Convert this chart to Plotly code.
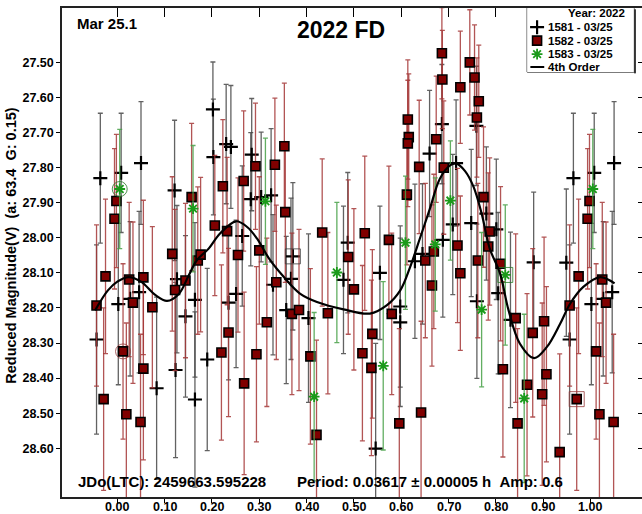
import plotly.graph_objects as go

# ---------------- data (phase in [0,1), reduced magnitude, error) ----------------
ph_1581 = [0.964, 0.008, 0.050, 0.121, 0.202, 0.203, 0.230, 0.240, 0.264, 0.284, 0.282, 0.304, 0.325,
           0.329, 0.367, 0.371, 0.357, 0.404, 0.478, 0.487, 0.546, 0.555, 0.598, 0.598, 0.629, 0.645,
           0.660, 0.686, 0.688, 0.716, 0.709, 0.748, 0.759, 0.780, 0.801, 0.760, 0.805, 0.831, 0.880,
           0.949, 0.956, 0.002, 0.027, 0.046, 0.083, 0.126, 0.123, 0.144, 0.164, 0.164, 0.190, 0.235, 0.251]
mag_1581 = [27.830, 27.815, 27.787, 27.865, 27.634, 27.770, 27.733, 27.741, 27.995, 27.763, 27.890, 27.884, 27.879,
            28.134, 28.117, 28.053, 28.206, 28.229, 28.120, 28.014, 28.601, 28.100, 28.196, 28.241, 28.067, 28.046,
            27.760, 27.676, 28.006, 27.787, 27.962, 27.958, 27.681, 27.931, 27.976, 28.181, 28.158, 28.234, 28.070,
            28.071, 28.290, 28.189, 28.174, 28.155, 28.429, 28.118, 28.377, 28.224, 28.177, 28.461, 28.347, 28.185, 28.160]
err_1581 = [0.185, 0.170, 0.175, 0.200, 0.135, 0.165, 0.170, 0.175, 0.200, 0.160, 0.190, 0.185, 0.190,
            0.200, 0.230, 0.210, 0.210, 0.240, 0.210, 0.200, 0.300, 0.190, 0.230, 0.240, 0.220, 0.200,
            0.180, 0.170, 0.220, 0.180, 0.200, 0.210, 0.170, 0.190, 0.200, 0.220, 0.230, 0.250, 0.200,
            0.210, 0.270, 0.230, 0.220, 0.230, 0.260, 0.210, 0.250, 0.230, 0.220, 0.250, 0.260, 0.220, 0.210]

ph_1582 = [0.998, 0.994, 0.157, 0.206, 0.223, 0.232, 0.267, 0.292, 0.956, 0.975, 0.971, 0.012, 0.019, 0.025,
           0.033, 0.055, 0.055, 0.049, 0.074, 0.116, 0.122, 0.144, 0.170, 0.176, 0.220, 0.235, 0.255, 0.268,
           0.294, 0.300, 0.333, 0.353, 0.355, 0.433, 0.523, 0.574, 0.612, 0.614, 0.616, 0.614, 0.638, 0.674,
           0.686, 0.687, 0.690, 0.336, 0.316, 0.369, 0.384, 0.408, 0.421, 0.445, 0.488, 0.500, 0.518, 0.539,
           0.537, 0.580, 0.596, 0.642, 0.651, 0.665, 0.669, 0.745, 0.725, 0.755, 0.764, 0.760, 0.774, 0.787,
           0.719, 0.784, 0.725, 0.762, 0.810, 0.815, 0.842, 0.846, 0.866, 0.878, 0.902, 0.907, 0.898, 0.935]
mag_1582 = [27.895, 27.946, 27.884, 27.965, 27.853, 27.981, 27.838, 27.796, 28.193, 28.110, 28.460, 28.324, 28.503, 28.119,
            28.185, 28.113, 28.373, 28.525, 28.198, 28.046, 28.149, 28.122, 28.065, 28.048, 28.327, 28.270, 28.049, 28.415,
            28.332, 28.036, 27.792, 27.739, 27.927, 27.985, 27.987, 28.006, 27.877, 27.663, 27.713, 27.731, 27.798, 27.719,
            27.474, 27.549, 27.800, 28.127, 28.241, 28.217, 28.206, 28.338, 28.562, 28.215, 28.055, 28.147, 28.329, 28.274,
            28.371, 28.217, 28.529, 28.498, 28.065, 28.136, 28.039, 27.500, 27.571, 27.543, 27.611, 27.657, 27.884, 27.982,
            28.022, 28.025, 28.101, 28.065, 28.074, 28.375, 28.229, 28.529, 28.419, 28.271, 28.238, 28.389, 28.446, 28.611]
err_1582 = [0.19, 0.20, 0.21, 0.20, 0.19, 0.21, 0.20, 0.18, 0.23, 0.22, 0.26, 0.25, 0.26, 0.22,
            0.23, 0.22, 0.26, 0.25, 0.23, 0.22, 0.23, 0.22, 0.21, 0.22, 0.25, 0.24, 0.22, 0.26,
            0.25, 0.21, 0.19, 0.18, 0.20, 0.21, 0.22, 0.21, 0.20, 0.17, 0.18, 0.18, 0.19, 0.18,
            0.13, 0.14, 0.19, 0.22, 0.24, 0.23, 0.23, 0.25, 0.27, 0.23, 0.22, 0.23, 0.25, 0.24,
            0.25, 0.23, 0.27, 0.26, 0.22, 0.23, 0.22, 0.15, 0.16, 0.15, 0.16, 0.17, 0.20, 0.21,
            0.22, 0.21, 0.22, 0.22, 0.22, 0.25, 0.24, 0.27, 0.26, 0.24, 0.24, 0.25, 0.26, 0.28]

ph_1583 = [0.005, 0.160, 0.313, 0.609, 0.672, 0.704, 0.416, 0.464, 0.562, 0.770, 0.820, 0.860]
mag_1583 = [27.861, 27.917, 27.896, 28.014, 28.019, 27.894, 28.453, 28.099, 28.365, 28.205, 28.106, 28.458]
err_1583 = [0.17, 0.18, 0.18, 0.19, 0.19, 0.17, 0.24, 0.20, 0.24, 0.22, 0.20, 0.24]

# 4th order Fourier fit
curve_phase = [-0.047, -0.02, 0.0, 0.024, 0.05, 0.08, 0.105, 0.13, 0.15, 0.168, 0.193, 0.217, 0.251, 0.275,
               0.295, 0.323, 0.352, 0.386, 0.422, 0.478, 0.534, 0.570, 0.598, 0.619, 0.640, 0.660, 0.682,
               0.704, 0.716, 0.735, 0.753, 0.770, 0.787, 0.809, 0.827, 0.851, 0.881, 0.908, 0.936, 0.957,
               0.985, 1.021, 1.051]
curve_mag = [28.207, 28.150, 28.125, 28.112, 28.125, 28.163, 28.180, 28.160, 28.110, 28.064, 28.031, 27.988,
             27.953, 27.970, 28.002, 28.064, 28.112, 28.159, 28.183, 28.204, 28.216, 28.192, 28.150, 28.083,
             28.000, 27.920, 27.831, 27.793, 27.788, 27.810, 27.855, 27.931, 28.030, 28.102, 28.207, 28.302,
             28.343, 28.311, 28.245, 28.188, 28.140, 28.112, 28.130]

series_names = ["1581 - 03/25", "1582 - 03/25", "1583 - 03/25"]
x_ticks = [0.0, 0.1, 0.2, 0.3, 0.4, 0.5, 0.6, 0.7, 0.8, 0.9, 1.0]
y_ticks = [27.5, 27.6, 27.7, 27.8, 27.9, 28.0, 28.1, 28.2, 28.3, 28.4, 28.5, 28.6]

# session first / last observation markers (index into the series)
circled = [("1582", 11), ("1583", 0)]
boxed = [("1581", 15), ("1582", 10), ("1583", 10)]

FONT = "Liberation Sans, Arial, sans-serif"
X_RANGE = [-0.117, 1.109]
Y_RANGE = [28.739, 27.345]


def wrap(ph, mag, err):
    xs, ys, es = [], [], []
    for p, m, e in zip(ph, mag, err):
        xs.append(p); ys.append(m); es.append(e)
        if p > 0.95:
            xs.append(p - 1); ys.append(m); es.append(e)
        if p < 0.052:
            xs.append(p + 1); ys.append(m); es.append(e)
    return xs, ys, es


data = {"1581": (ph_1581, mag_1581, err_1581),
        "1582": (ph_1582, mag_1582, err_1582),
        "1583": (ph_1583, mag_1583, err_1583)}

styles = {
    "1581": dict(marker=dict(symbol="cross-thin", size=10, color="black",
                             line=dict(width=2.2, color="black")),
                 ecolor="rgba(70,70,70,0.85)"),
    "1582": dict(marker=dict(symbol="square", size=9, color="#800000",
                             line=dict(width=1.6, color="black")),
                 ecolor="rgba(165,55,55,0.85)"),
    "1583": dict(marker=dict(symbol="asterisk", size=9, color="#1a9a1a",
                             line=dict(width=1.8, color="#1a9a1a")),
                 ecolor="rgba(70,160,70,0.85)"),
}

fig = go.Figure()

for key in ["1581", "1582", "1583"]:
    xs, ys, es = wrap(*data[key])
    st = styles[key]
    fig.add_trace(go.Scatter(
        x=xs, y=ys, mode="markers", showlegend=False, hoverinfo="skip",
        marker=st["marker"],
        error_y=dict(type="data", array=es, visible=True, color=st["ecolor"],
                     thickness=1.3, width=2.5),
    ))

hl_col = {"1581": "rgba(60,60,60,0.8)", "1582": "rgba(150,60,60,0.8)", "1583": "rgba(40,120,40,0.8)"}
for lst, sym in ((circled, "circle-open"), (boxed, "square-open")):
    for key, idx in lst:
        ph, mag, _ = data[key]
        fig.add_trace(go.Scatter(
            x=[ph[idx]], y=[mag[idx]], mode="markers", showlegend=False, hoverinfo="skip",
            marker=dict(symbol=sym, size=15, color=hl_col[key], line=dict(width=1, color=hl_col[key])),
        ))

fig.add_trace(go.Scatter(
    x=curve_phase, y=curve_mag, mode="lines", showlegend=False, hoverinfo="skip",
    line=dict(color="black", width=2.2, shape="spline", smoothing=1.0),
))

# invisible trace to anchor the mirrored tick axes (top and right)
fig.add_trace(go.Scatter(x=curve_phase, y=curve_mag, xaxis="x2", yaxis="y2", mode="lines",
                         line=dict(width=0), opacity=0, showlegend=False, hoverinfo="skip"))

# ---- legend drawn on an overlay axis pair ----
leg_title_row = 0.915
leg_rows = [0.70, 0.49, 0.28, 0.08]
for key, row in zip(["1581", "1582", "1583"], leg_rows[:3]):
    m = dict(styles[key]["marker"])
    fig.add_trace(go.Scatter(x=[0.093], y=[row], xaxis="x3", yaxis="y3", mode="markers",
                             marker=m, showlegend=False, hoverinfo="skip"))
fig.add_trace(go.Scatter(x=[0.03, 0.16], y=[leg_rows[3], leg_rows[3]], xaxis="x3", yaxis="y3",
                         mode="lines", line=dict(color="black", width=2), showlegend=False, hoverinfo="skip"))

legend_texts = series_names + ["4th Order"]
annotations = []
for txt, row in zip(legend_texts, leg_rows):
    annotations.append(dict(x=0.178, y=row, xref="x3", yref="y3", text=txt, showarrow=False,
                            xanchor="left", yanchor="middle",
                            font=dict(family=FONT, size=11.5, color="black", weight="bold")))
annotations.append(dict(x=0.65, y=leg_title_row, xref="x3", yref="y3", text="Year: 2022", showarrow=False,
                        xanchor="center", yanchor="middle",
                        font=dict(family=FONT, size=11.5, color="black", weight="bold")))

tickfont = dict(family=FONT, size=12.5, color="black", weight="bold")

# x tick labels placed just under the frame
for v in x_ticks:
    annotations.append(dict(x=v, y=-0.021, xref="x", yref="paper", text=f"{v:.2f}", showarrow=False,
                            xanchor="center", yanchor="middle", font=tickfont))

annotations += [
    dict(x=0.022, y=0.969, xref="paper", yref="paper", text="Mar 25.1", showarrow=False,
         xanchor="left", yanchor="middle", font=dict(family=FONT, size=15, color="black", weight="bold")),
    dict(x=0.481, y=0.955, xref="paper", yref="paper", text="2022 FD", showarrow=False,
         xanchor="center", yanchor="middle", font=dict(family=FONT, size=23, color="black", weight="bold")),
    dict(x=0.024, y=0.031, xref="paper", yref="paper", text="JDo(LTC): 2459663.595228", showarrow=False,
         xanchor="left", yanchor="middle", font=dict(family=FONT, size=15, color="black", weight="bold")),
    dict(x=0.402, y=0.031, xref="paper", yref="paper",
         text="Period: 0.03617 ± 0.00005 h\u00a0\u00a0Amp: 0.6", showarrow=False,
         xanchor="left", yanchor="middle", font=dict(family=FONT, size=15, color="black", weight="bold")),
    # y axis title
    dict(x=-0.087, y=0.515, xref="paper", yref="paper",
         text="Reduced Magnitude(V)\u00a0\u00a0(a: 63.4\u00a0\u00a0G: 0.15)", showarrow=False,
         textangle=-90, xanchor="center", yanchor="middle",
         font=dict(family=FONT, size=14.5, color="black", weight="bold")),
]

shapes = [
    dict(type="rect", xref="x3 domain", yref="y3 domain", x0=0, x1=1, y0=0, y1=1,
         line=dict(color="black", width=1), fillcolor="white", layer="below"),
    dict(type="line", xref="x3 domain", yref="y3 domain", x0=1.01, x1=1.01, y0=-0.02, y1=0.98,
         line=dict(color="#333", width=2)),
]

fig.update_layout(
    width=642, height=514,
    margin=dict(l=62, r=0, t=8, b=17),
    paper_bgcolor="white", plot_bgcolor="white",
    annotations=annotations, shapes=shapes,
    xaxis=dict(range=X_RANGE, tickvals=x_ticks, showticklabels=False, ticks="outside", ticklen=4,
               tickwidth=1, tickcolor="black", showline=True, linecolor="#222", linewidth=1.5,
               mirror=True, showgrid=False, zeroline=False),
    xaxis2=dict(range=X_RANGE, overlaying="x", side="top", tickvals=x_ticks, ticks="inside",
                ticklen=9, tickwidth=1, tickcolor="black", showticklabels=False, showgrid=False,
                zeroline=False, showline=False),
    yaxis=dict(range=Y_RANGE, tickvals=y_ticks, tickformat=".2f", ticks="outside", ticklen=4,
               tickwidth=1, tickcolor="black", showline=True, linecolor="#222", linewidth=1.5,
               mirror=False, showgrid=False, zeroline=False, tickfont=tickfont),
    yaxis2=dict(range=Y_RANGE, overlaying="y", side="right", tickvals=y_ticks, ticks="inside",
                ticklen=4, tickwidth=1, tickcolor="black", showticklabels=False, showgrid=False,
                zeroline=False, showline=False),
    xaxis3=dict(domain=[0.802, 0.986], range=[0, 1], visible=False, anchor="y3"),
    yaxis3=dict(domain=[0.869, 1.0], range=[0, 1], visible=False, anchor="x3"),
)

fig.write_html("out.html", config={"displayModeBar": False},
               post_script="document.body.style.margin='0';document.body.style.padding='0';"
                           "document.documentElement.style.overflow='hidden';")
